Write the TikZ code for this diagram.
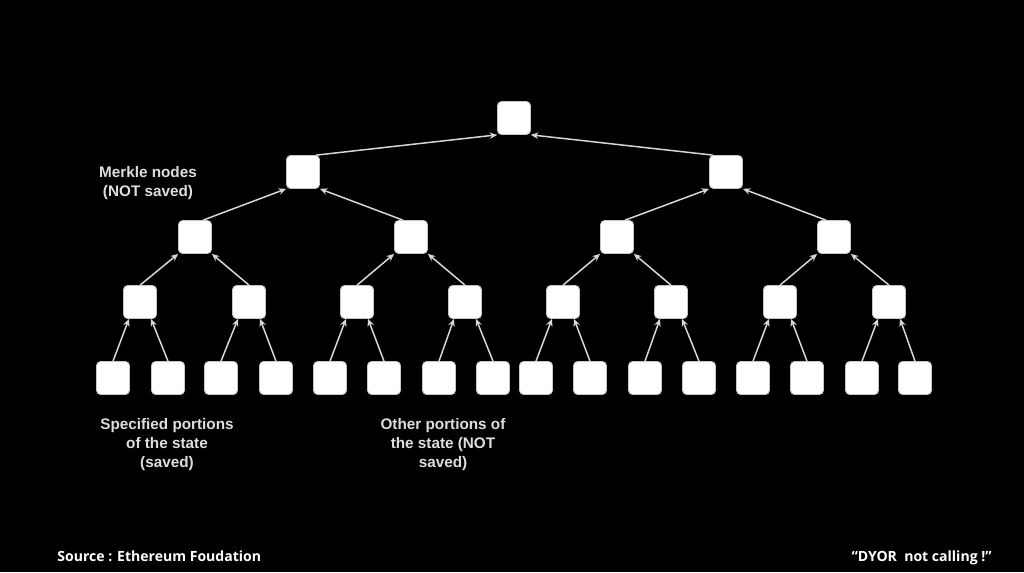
\documentclass[tikz,border=0pt]{standalone}
\usepackage{fontspec}
\setmainfont{Liberation Sans}
\newfontfamily\footfont{Open Sans}
\usetikzlibrary{arrows.meta}

\begin{document}
\begin{tikzpicture}[x=0.02cm,y=-0.02cm,
  hashbox/.style={draw=gray!45,line width=0.4pt,fill=white,rounded corners=0.08cm,minimum size=0.66cm,inner sep=0pt},
  hashlink/.style={draw=edgegray,line width=0.85pt,-{Stealth[length=0.15cm,width=0.13cm]}},
  note/.style={text=notegray,font=\bfseries\fontsize{8.7}{10.8}\selectfont,align=center},
  credit/.style={text=white,font=\footfont\bfseries\fontsize{8}{9.6}\selectfont}]
% Define colours
\definecolor{edgegray}{RGB}{215,215,215}
\definecolor{notegray}{RGB}{222,222,222}

% Black background
\fill[black] (0,0) rectangle (1024,572);

% Root and merkle levels
\node[hashbox] (root) at (514,118) {};
\node[hashbox] (h1a) at (303,172) {};
\node[hashbox] (h1b) at (726,172) {};
\node[hashbox] (h2a) at (195,237) {};
\node[hashbox] (h2b) at (411,237) {};
\node[hashbox] (h2c) at (617,237) {};
\node[hashbox] (h2d) at (834,237) {};
\node[hashbox] (h3a) at (140,302) {};
\node[hashbox] (h3b) at (249,302) {};
\node[hashbox] (h3c) at (357,302) {};
\node[hashbox] (h3d) at (465,302) {};
\node[hashbox] (h3e) at (563,302) {};
\node[hashbox] (h3f) at (671,302) {};
\node[hashbox] (h3g) at (780,302) {};
\node[hashbox] (h3h) at (889,302) {};

% State portions
\node[hashbox] (s1) at (113,378) {};
\node[hashbox] (s2) at (168,378) {};
\node[hashbox] (s3) at (221,378) {};
\node[hashbox] (s4) at (276,378) {};
\node[hashbox] (s5) at (330,378) {};
\node[hashbox] (s6) at (384,378) {};
\node[hashbox] (s7) at (439,378) {};
\node[hashbox] (s8) at (493,378) {};
\node[hashbox] (s9) at (536,378) {};
\node[hashbox] (s10) at (590,378) {};
\node[hashbox] (s11) at (645,378) {};
\node[hashbox] (s12) at (699,378) {};
\node[hashbox] (s13) at (753,378) {};
\node[hashbox] (s14) at (807,378) {};
\node[hashbox] (s15) at (862,378) {};
\node[hashbox] (s16) at (915,378) {};

% Draw arrows
\draw[hashlink] ([shift={(-4,0)}]h1a.north east) -- (root.south west);
\draw[hashlink] ([shift={(4,0)}]h1b.north west) -- (root.south east);
\draw[hashlink] ([shift={(8,0)}]h2a.north) -- (h1a.south west);
\draw[hashlink] ([shift={(-8,0)}]h2b.north) -- (h1a.south east);
\draw[hashlink] ([shift={(8,0)}]h2c.north) -- (h1b.south west);
\draw[hashlink] ([shift={(-8,0)}]h2d.north) -- (h1b.south east);
\draw[hashlink] (h3a.north) -- (h2a.south west);
\draw[hashlink] (h3b.north) -- (h2a.south east);
\draw[hashlink] (h3c.north) -- (h2b.south west);
\draw[hashlink] (h3d.north) -- (h2b.south east);
\draw[hashlink] (h3e.north) -- (h2c.south west);
\draw[hashlink] (h3f.north) -- (h2c.south east);
\draw[hashlink] (h3g.north) -- (h2d.south west);
\draw[hashlink] (h3h.north) -- (h2d.south east);
\draw[hashlink] (s1.north) -- ([shift={(-11,0)}]h3a.south);
\draw[hashlink] (s2.north) -- ([shift={(11,0)}]h3a.south);
\draw[hashlink] (s3.north) -- ([shift={(-11,0)}]h3b.south);
\draw[hashlink] (s4.north) -- ([shift={(11,0)}]h3b.south);
\draw[hashlink] (s5.north) -- ([shift={(-11,0)}]h3c.south);
\draw[hashlink] (s6.north) -- ([shift={(11,0)}]h3c.south);
\draw[hashlink] (s7.north) -- ([shift={(-11,0)}]h3d.south);
\draw[hashlink] (s8.north) -- ([shift={(11,0)}]h3d.south);
\draw[hashlink] (s9.north) -- ([shift={(-11,0)}]h3e.south);
\draw[hashlink] (s10.north) -- ([shift={(11,0)}]h3e.south);
\draw[hashlink] (s11.north) -- ([shift={(-11,0)}]h3f.south);
\draw[hashlink] (s12.north) -- ([shift={(11,0)}]h3f.south);
\draw[hashlink] (s13.north) -- ([shift={(-11,0)}]h3g.south);
\draw[hashlink] (s14.north) -- ([shift={(11,0)}]h3g.south);
\draw[hashlink] (s15.north) -- ([shift={(-11,0)}]h3h.south);
\draw[hashlink] (s16.north) -- ([shift={(11,0)}]h3h.south);

% Add labels
\node[note] (merkle) at (148,183) {Merkle nodes\\(NOT saved)};
\node[note] (saved) at (167,445) {Specified portions\\of the state\\(saved)};
\node[note] (unsaved) at (443,445) {Other portions of\\the state (NOT\\saved)};

% Footer
\node[credit,anchor=base west,inner sep=0pt] (source) at (57,561) {Source : Ethereum Foudation};
\node[credit,anchor=base east,inner sep=0pt] (dyor) at (992,561) {“DYOR\ \ not calling !”};
\end{tikzpicture}
\end{document}
